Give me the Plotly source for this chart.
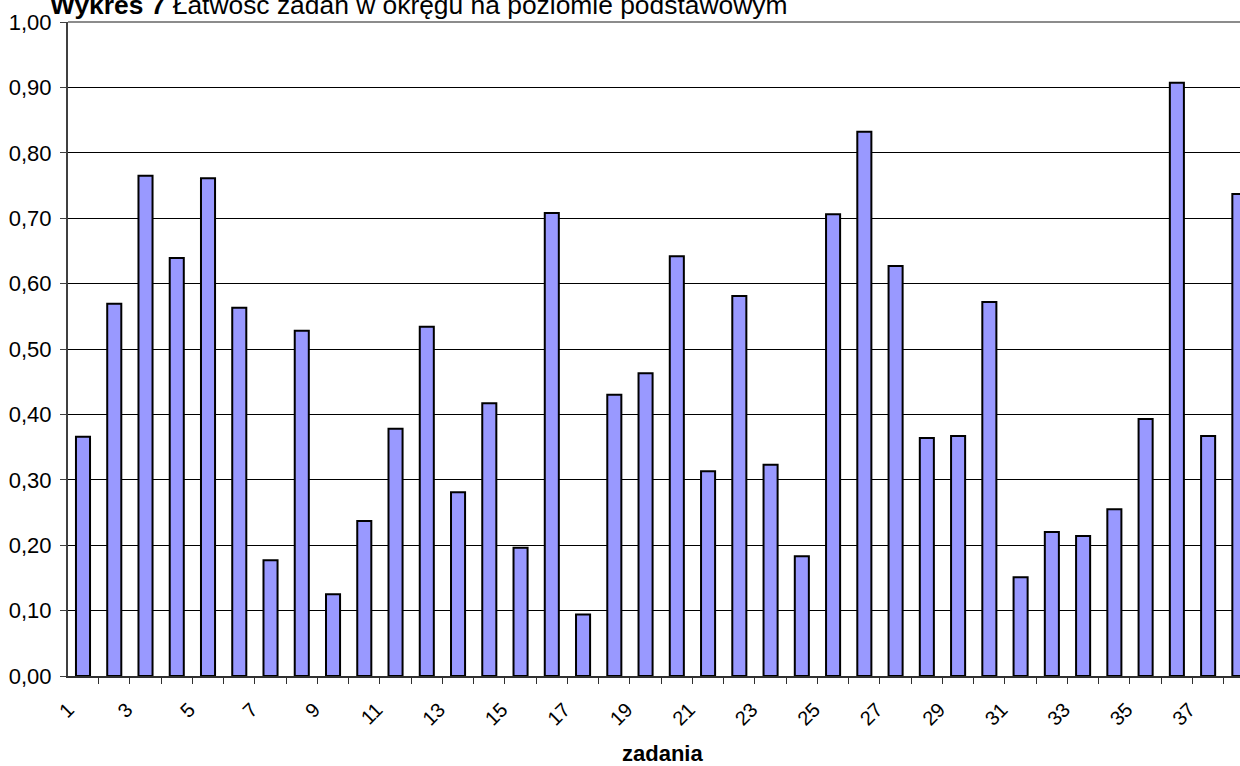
import plotly.graph_objects as go

# data
zadania = list(range(1, 39))
latwosc = [0.366, 0.569, 0.765, 0.639, 0.761, 0.563, 0.177, 0.528, 0.125, 0.237,
           0.378, 0.534, 0.281, 0.417, 0.196, 0.708, 0.094, 0.430, 0.463, 0.642,
           0.313, 0.581, 0.323, 0.183, 0.706, 0.832, 0.627, 0.364, 0.367, 0.572,
           0.151, 0.220, 0.214, 0.255, 0.393, 0.907, 0.367, 0.737]
label_nums = [n for n in zadania if n % 2 == 1]

FONT = "Arial, Liberation Sans, sans-serif"
BAR = '#9999FF'
X_MIN, X_MAX = 0.52, 38.02

fig = go.Figure()
fig.add_trace(go.Bar(
    x=zadania, y=latwosc, width=0.45,
    marker=dict(color=BAR, line=dict(color='black', width=2)),
    showlegend=False
))

fig.update_layout(
    width=1240, height=766,
    margin=dict(l=68, r=0, t=22, b=90, autoexpand=False),
    paper_bgcolor='white', plot_bgcolor='white',
    separators=', ',
    font=dict(family=FONT, color='black', size=19),
    title=dict(
        text='<b>Wykres 7</b> Łatwość zadań w okręgu na poziomie podstawowym',
        font=dict(family=FONT, size=26.4, color='black'),
        xref='container', x=50 / 1240, xanchor='left',
        yref='container', y=1 - 5 / 766, yanchor='middle'
    ),
    xaxis=dict(
        range=[X_MIN, X_MAX], showgrid=False, zeroline=False, automargin=False,
        showline=True, linecolor='#303030', linewidth=2,
        # labels sit a little left of the bar, as in the original
        tickmode='array', tickvals=[max(n - 0.6, X_MIN + 0.01) for n in label_nums],
        ticktext=[str(n) for n in label_nums], tickangle=-45,
        ticks='outside', ticklen=0, tickfont=dict(size=20), ticklabelstandoff=12,
        minor=dict(tickmode='array', tickvals=[n - 0.5 for n in zadania] + [38.5],
                   ticks='outside', ticklen=6, tickcolor='#303030', tickwidth=1),
    ),
    yaxis=dict(
        range=[0, 1], dtick=0.1, tickformat='.2f', automargin=False,
        showgrid=True, gridcolor='black', gridwidth=1,
        zeroline=False, showline=True, linecolor='#404040', linewidth=2,
        ticks='outside', ticklen=6, tickcolor='#404040',
        tickfont=dict(size=22), ticklabelstandoff=4
    ),
    shapes=[dict(type='line', xref='paper', yref='paper', x0=0, x1=1, y0=1, y1=1,
                 line=dict(color='#8c8c8c', width=2))],
    # axis title: the original's plot runs past the right edge, so it is centred a bit right
    annotations=[dict(text='<b>zadania</b>', font=dict(size=22), showarrow=False,
                      xref='paper', x=0.507, xanchor='center',
                      yref='paper', y=-0.119, yanchor='middle')]
)

# drop the default page margin so the figure sits at the window's corner
fig.write_html("out.html", config={'displayModeBar': False},
               post_script="document.body.style.margin='0';")
